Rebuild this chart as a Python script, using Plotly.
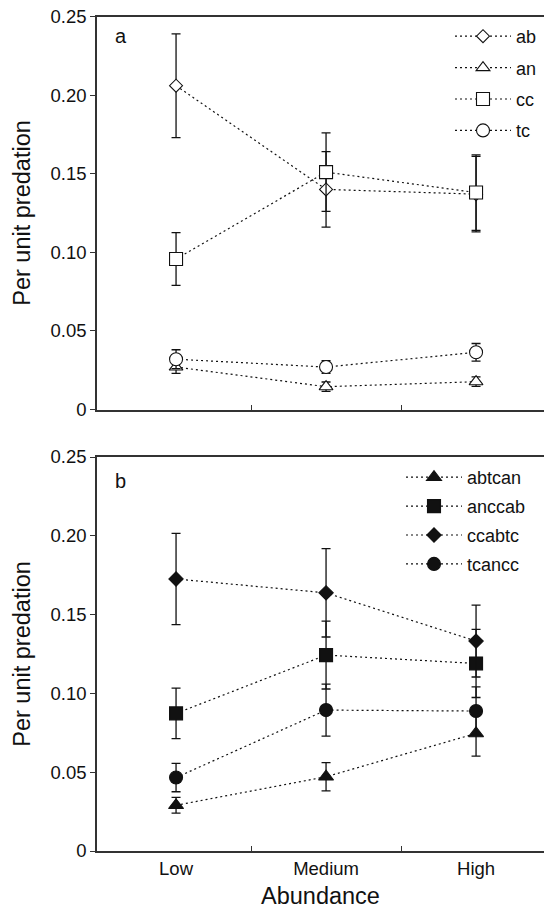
import plotly.graph_objects as go

categories = ["Low", "Medium", "High"]
xpos = [1, 2, 3]

# Panel a
ab = [0.206, 0.140, 0.137]
ab_err = [0.033, 0.024, 0.024]
an = [0.027, 0.0145, 0.0177]
an_err = [0.004, 0.003, 0.003]
cc = [0.0957, 0.151, 0.138]
cc_err = [0.0168, 0.025, 0.024]
tc = [0.032, 0.027, 0.0364]
tc_err = [0.006, 0.004, 0.0056]

# Panel b
abtcan = [0.029, 0.0471, 0.0746]
abtcan_err = [0.005, 0.009, 0.0144]
anccab = [0.0873, 0.1243, 0.119]
anccab_err = [0.016, 0.0215, 0.0216]
ccabtc = [0.1726, 0.1638, 0.1332]
ccabtc_err = [0.029, 0.028, 0.0228]
tcancc = [0.0466, 0.0894, 0.0888]
tcancc_err = [0.009, 0.0165, 0.0154]

yticks = [0, 0.05, 0.10, 0.15, 0.20, 0.25]
yticktext = ["0", "0.05", "0.10", "0.15", "0.20", "0.25"]

FONT = "Liberation Sans, Arial, Helvetica, sans-serif"
INK = "#111111"

fig = go.Figure()

def add(name, y, err, symbol, size, filled, xa, ya, legend):
    fig.add_trace(go.Scatter(
        x=xpos, y=y, name=name, mode="lines+markers",
        xaxis=xa, yaxis=ya, legend=legend, legendgroup=name,
        line=dict(color=INK, width=1.2, dash="2px,3px"),
        marker=dict(symbol=symbol, size=size,
                    color=INK if filled else "white",
                    line=dict(color=INK, width=1.1)),
        error_y=dict(type="data", array=err, visible=True,
                     color=INK, thickness=1.3, width=4.5),
    ))

add("ab", ab, ab_err, "diamond", 10, False, "x", "y", "legend")
add("an", an, an_err, "triangle-up", 12, False, "x", "y", "legend")
add("cc", cc, cc_err, "square", 13, False, "x", "y", "legend")
add("tc", tc, tc_err, "circle", 13, False, "x", "y", "legend")

add("abtcan", abtcan, abtcan_err, "triangle-up", 13, True, "x2", "y2", "legend2")
add("anccab", anccab, anccab_err, "square", 13, True, "x2", "y2", "legend2")
add("ccabtc", ccabtc, ccabtc_err, "diamond", 11, True, "x2", "y2", "legend2")
add("tcancc", tcancc, tcancc_err, "circle", 13, True, "x2", "y2", "legend2")

# invisible trace to activate category label axis
fig.add_trace(go.Scatter(x=xpos, y=[None, None, None], xaxis="x3", yaxis="y2",
                         showlegend=False, hoverinfo="skip", mode="markers"))

XR = [0.473, 3.453]
xd = [97 / 544, 1.0]
H = 909
ya_dom = [(H - 409.5) / H, (H - 16.5) / H]
yb_dom = [(H - 851) / H, (H - 457) / H]

axline = dict(showline=True, linecolor="#333333", linewidth=1.6, automargin=False)
xcommon = dict(range=XR, domain=xd, tickvals=[1.5, 2.5], ticks="inside", ticklen=5,
               tickwidth=1.2, tickcolor="#333333", showticklabels=False,
               showgrid=False, zeroline=False, mirror=True, **axline)
ycommon = dict(range=[0, 0.25], tickvals=yticks, ticktext=yticktext, ticks="outside",
               ticklen=5, tickwidth=1.2, tickcolor="#333333", showgrid=False,
               zeroline=False,
               tickfont=dict(family=FONT, size=18.5, color=INK),
               title=dict(text="Per unit predation", standoff=13,
                          font=dict(family=FONT, size=23.5, color=INK)),
               **axline)

fig.update_layout(
    width=544, height=909,
    margin=dict(l=0, r=0, t=0, b=0, autoexpand=False),
    paper_bgcolor="white", plot_bgcolor="white",
    font=dict(family=FONT, color=INK),
    xaxis=dict(anchor="y", **xcommon),
    yaxis=dict(domain=ya_dom, anchor="x", **ycommon),
    xaxis2=dict(anchor="y2", **xcommon),
    yaxis2=dict(domain=yb_dom, anchor="x2", **ycommon),
    xaxis3=dict(overlaying="x2", anchor="y2", side="bottom", range=XR,
                tickvals=xpos, ticktext=categories, ticks="", showline=False,
                showgrid=False, zeroline=False, ticklabelstandoff=4, automargin=False,
                tickfont=dict(family=FONT, size=18.5, color=INK),
                title=dict(text="Abundance", standoff=18,
                           font=dict(family=FONT, size=23.5, color=INK))),
    legend=dict(x=450 / 544, y=(H - 18) / H, xanchor="left", yanchor="top",
                bgcolor="rgba(0,0,0,0)", itemwidth=56, tracegroupgap=5,
                font=dict(family=FONT, size=18, color=INK)),
    legend2=dict(x=401 / 544, y=(H - 459) / H, xanchor="left", yanchor="top",
                 bgcolor="rgba(0,0,0,0)", itemwidth=56, tracegroupgap=2.5,
                 font=dict(family=FONT, size=18, color=INK)),
    annotations=[
        dict(text="a", xref="x domain", yref="y domain", x=0.035, y=0.95,
             xanchor="left", yanchor="middle", showarrow=False,
             font=dict(family=FONT, size=20, color=INK)),
        dict(text="b", xref="x2 domain", yref="y2 domain", x=0.035, y=0.938,
             xanchor="left", yanchor="middle", showarrow=False,
             font=dict(family=FONT, size=20, color=INK)),
    ],
)

fig.write_html("out.html", config={"displayModeBar": False},
               post_script="document.body.style.margin='0';document.body.style.overflow='hidden';")
